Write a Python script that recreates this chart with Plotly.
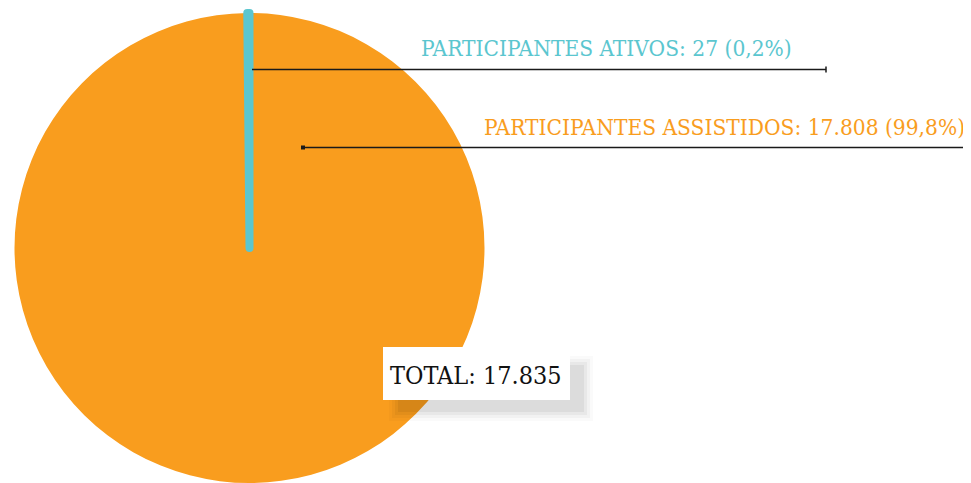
import plotly.graph_objects as go

# data
labels = ["PARTICIPANTES ASSISTIDOS", "PARTICIPANTES ATIVOS"]
values = [17808, 27]
percent_text = ["99,8%", "0,2%"]
value_text = ["17.808", "27"]
total_text = "17.835"
colors = ["#F99D1E", "#5BC6CF"]

# the page body has an 8px margin, so the figure sits at (8, 8) in the window
OFF = 8
W, H = 971 - OFF, 483 - OFF
FONT = "DejaVu Serif Condensed"


def px(x):
    return (x - OFF) / W


def py(y):
    return 1 - (y - OFF) / H


fig = go.Figure()

fig.add_trace(go.Pie(
    labels=labels,
    values=values,
    sort=False,
    direction="clockwise",
    rotation=0,
    textinfo="none",
    hoverinfo="skip",
    showlegend=False,
    marker=dict(colors=colors,
                line=dict(color=colors, width=[0, 8])),
    domain=dict(x=[px(13.5), px(485.5)], y=[0, py(13)]),
))

shapes = []
# leader lines
shapes.append(dict(type="line", xref="paper", yref="paper",
                   x0=px(252), x1=px(826), y0=py(69.5), y1=py(69.5),
                   line=dict(color="#1a1a1a", width=1.5)))
shapes.append(dict(type="line", xref="paper", yref="paper",
                   x0=px(826), x1=px(826), y0=py(66.5), y1=py(72.5),
                   line=dict(color="#1a1a1a", width=1.5)))
shapes.append(dict(type="line", xref="paper", yref="paper",
                   x0=px(303), x1=px(971), y0=py(147.5), y1=py(147.5),
                   line=dict(color="#1a1a1a", width=1.5)))
shapes.append(dict(type="rect", xref="paper", yref="paper",
                   x0=px(301), x1=px(305), y0=py(145.5), y1=py(149.5),
                   fillcolor="#1a1a1a", line=dict(width=0)))

# shadow of total box (soft)
for d, a in [(8, 0.02), (5, 0.03), (2, 0.04), (-1, 0.05)]:
    shapes.append(dict(type="rect", xref="paper", yref="paper", layer="above",
                       x0=px(397 - d), x1=px(585 + d), y0=py(364 - d), y1=py(413 + d),
                       fillcolor=f"rgba(0,0,0,{a})", line=dict(width=0)))
shapes.append(dict(type="rect", xref="paper", yref="paper", layer="above",
                   x0=px(383), x1=px(570), y0=py(347), y1=py(400),
                   fillcolor="white", line=dict(width=0)))

annotations = [
    dict(text=f"{labels[1]}: {value_text[1]} ({percent_text[1]})",
         x=px(419), y=py(48), xanchor="left", yanchor="middle",
         font=dict(family=FONT, size=22.5, color=colors[1])),
    dict(text=f"{labels[0]}: {value_text[0]} ({percent_text[0]})",
         x=px(482), y=py(127), xanchor="left", yanchor="middle",
         font=dict(family=FONT, size=22.5, color=colors[0])),
    dict(text=f"TOTAL: {total_text}",
         x=px(476), y=py(375), xanchor="center", yanchor="middle",
         font=dict(family=FONT, size=25, color="#111111")),
]
for a in annotations:
    a.update(xref="paper", yref="paper", showarrow=False)

fig.update_layout(
    width=W, height=H,
    margin=dict(l=0, r=0, t=0, b=0),
    paper_bgcolor="white",
    plot_bgcolor="white",
    shapes=shapes,
    annotations=annotations,
)

fig.write_html("out.html")
